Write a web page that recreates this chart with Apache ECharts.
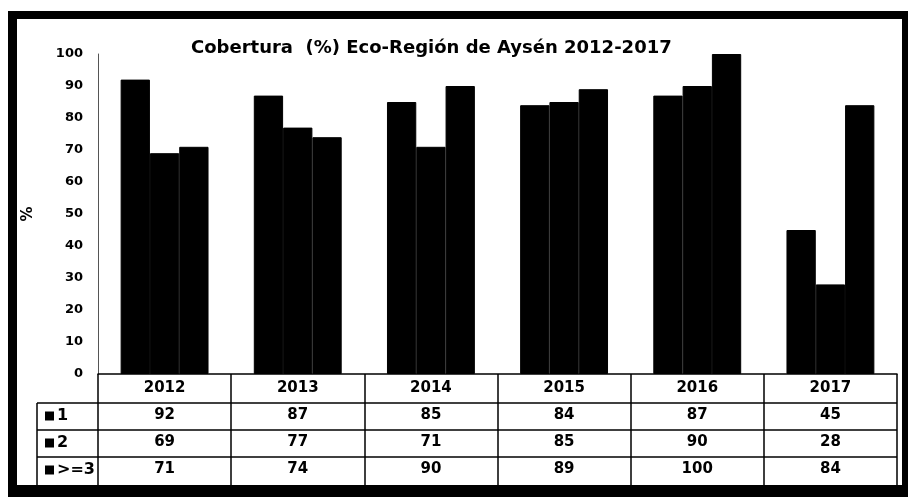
<!DOCTYPE html>
<html>
<head>
<meta charset="utf-8">
<script src="https://cdn.jsdelivr.net/npm/echarts@6/dist/echarts.min.js"></script>
<style>
  html, body { margin: 0; padding: 0; background: #fff; }
  #chart { width: 912px; height: 501px; }
</style>
</head>
<body>
<div id="chart"></div>
<script>
// años (categorías) y valores por serie
var years = ['2012', '2013', '2014', '2015', '2016', '2017'];
var serieNames = ['1', '2', '>=3'];
var serie1 = [92, 87, 85, 84, 87, 45];
var serie2 = [69, 77, 71, 85, 90, 28];
var serie3 = [71, 74, 90, 89, 100, 84];
var yTicks = [0, 10, 20, 30, 40, 50, 60, 70, 80, 90, 100];

var FONT = 'DejaVu Sans';
var rows = [serie1, serie2, serie3];

var myChart = echarts.init(document.getElementById('chart'));

// ejes x extra: una fila de la tabla por serie
var tableAxes = rows.map(function (vals, i) {
  return {
    type: 'category',
    gridIndex: 0,
    position: 'bottom',
    offset: 27 * (i + 1),
    data: vals.map(String),
    axisLine: { show: false },
    axisTick: { show: false },
    axisLabel: {
      interval: 0,
      margin: 7,
      color: '#000',
      fontFamily: FONT,
      fontWeight: 'bold',
      fontSize: 15
    }
  };
});

// bordes de la tabla y marco (decoración)
var graphics = [];
[403, 430, 457].forEach(function (y) {
  graphics.push({ type: 'line', shape: { x1: 37, y1: y, x2: 897, y2: y }, style: { stroke: '#000', lineWidth: 1.5 } });
});
graphics.push({ type: 'line', shape: { x1: 37, y1: 403, x2: 37, y2: 486 }, style: { stroke: '#000', lineWidth: 1.5 } });
serieNames.forEach(function (n, i) {
  var cy = 416.5 + 27 * i;
  graphics.push({ type: 'rect', shape: { x: 45, y: cy - 5, width: 9, height: 9 }, style: { fill: '#000' } });
  graphics.push({
    type: 'text', x: 57, y: cy - 1,
    style: { text: n, fill: '#000', font: 'bold 16px "DejaVu Sans"', verticalAlign: 'middle' }
  });
});
// marco exterior
graphics.push({ type: 'rect', shape: { x: 8, y: 11, width: 900, height: 8 }, style: { fill: '#000' } });
graphics.push({ type: 'rect', shape: { x: 8, y: 11, width: 9, height: 486 }, style: { fill: '#000' } });
graphics.push({ type: 'rect', shape: { x: 902, y: 11, width: 6, height: 486 }, style: { fill: '#000' } });
graphics.push({ type: 'rect', shape: { x: 8, y: 485, width: 900, height: 12 }, style: { fill: '#000' } });

var option = {
  animation: false,
  backgroundColor: '#fff',
  title: {
    text: 'Cobertura  (%) Eco-Región de Aysén 2012-2017',
    left: 186,
    top: 34,
    textStyle: { fontFamily: FONT, fontWeight: 'bold', fontSize: 18, color: '#000' }
  },
  grid: { left: 98, right: 15, top: 54, bottom: 127, containLabel: false },
  xAxis: [{
    type: 'category',
    data: years,
    axisLine: { show: true, lineStyle: { color: '#000', width: 1.5 } },
    axisTick: { show: true, interval: 0, length: 111, lineStyle: { color: '#000', width: 1.5 } },
    axisLabel: {
      interval: 0,
      margin: 7,
      color: '#000',
      fontFamily: FONT,
      fontWeight: 'bold',
      fontSize: 15
    }
  }].concat(tableAxes),
  yAxis: {
    type: 'value',
    min: yTicks[0],
    max: yTicks[yTicks.length - 1],
    interval: 10,
    name: '%',
    nameLocation: 'middle',
    nameRotate: 90,
    nameGap: 62,
    nameTextStyle: { fontFamily: FONT, fontWeight: 'bold', fontSize: 15, color: '#000' },
    axisLine: { show: true, lineStyle: { color: '#555', width: 1 } },
    axisTick: { show: false },
    splitLine: { show: false },
    axisLabel: { margin: 15, color: '#000', fontFamily: FONT, fontWeight: 'bold', fontSize: 13 }
  },
  series: rows.map(function (vals, i) {
    return {
      name: serieNames[i],
      type: 'bar',
      xAxisIndex: 0,
      data: vals,
      barGap: '0%',
      barCategoryGap: '34%',
      itemStyle: { color: '#000', borderColor: '#000', borderWidth: 1 },
      emphasis: { disabled: true }
    };
  }),
  graphic: graphics
};

myChart.setOption(option);
</script>
</body>
</html>
